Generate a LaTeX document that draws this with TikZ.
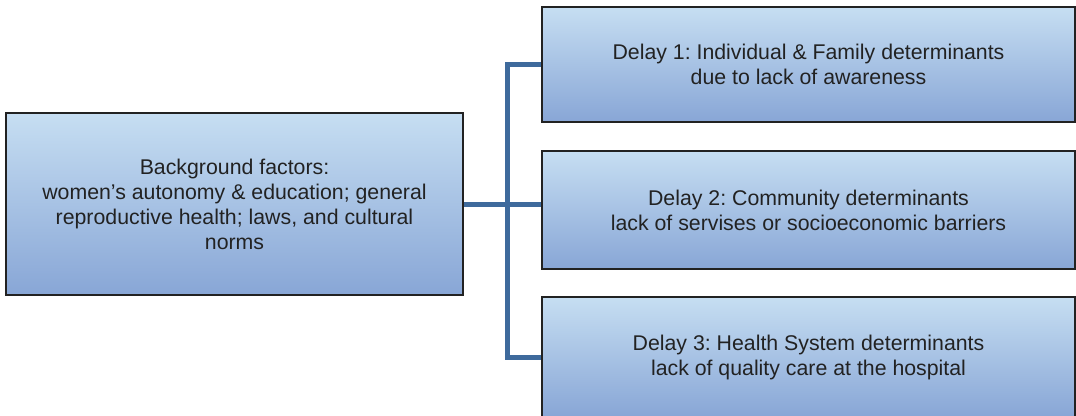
\documentclass[tikz,border=0pt]{standalone}
\usepackage{fontspec}
\setmainfont{Liberation Sans}
\usetikzlibrary{shadows}
\definecolor{boxtop}{HTML}{C6DEF2}
\definecolor{boxbot}{HTML}{88A6D6}
\definecolor{linkblue}{HTML}{3E6A9C}
\definecolor{edge}{HTML}{222222}
\definecolor{ink}{HTML}{222222}
\tikzset{
  fbox/.style={draw=edge, line width=1.3pt, top color=boxtop, bottom color=boxbot,
    drop shadow={opacity=0.35, shadow xshift=1.2pt, shadow yshift=-1.2pt},
    align=center, inner sep=0pt, text=ink,
    font=\fontsize{21.3}{25}\selectfont\frenchspacing},
  conn/.style={draw=linkblue, line width=5pt}
}
\begin{document}
\begin{tikzpicture}[x=1pt, y=-1pt]
\useasboundingbox (0,0) rectangle (1076,415);
% left: background factors
\node[fbox, minimum width=457pt, minimum height=182pt] (L) at (234.5,204)
  {Background factors:\\women’s autonomy \& education; general\\reproductive health; laws, and cultural\\norms};
% right: the three delays
\node[fbox, minimum width=533pt, minimum height=115pt] (B1) at (808.5,64.5)
  {Delay 1: Individual \& Family determinants\\due to lack of awareness};
\node[fbox, minimum width=533pt, minimum height=118pt] (B2) at (808.5,210)
  {Delay 2: Community determinants\\lack of servises or socioeconomic barriers};
\node[fbox, minimum width=533pt, minimum height=120pt] (B3) at (808.5,357)
  {Delay 3: Health System determinants\\lack of quality care at the hospital};
% connectors
\coordinate (spine) at (507.5,0);
\draw[conn, line cap=butt] ([xshift=-0.6pt]B1.west) -- (B1.west -| spine) -- (B3.west -| spine) -- ([xshift=-0.6pt]B3.west);
\draw[conn] ([xshift=0.6pt]L.east) -- ([xshift=-0.6pt]L.east -| B2.west);
\end{tikzpicture}
\end{document}
